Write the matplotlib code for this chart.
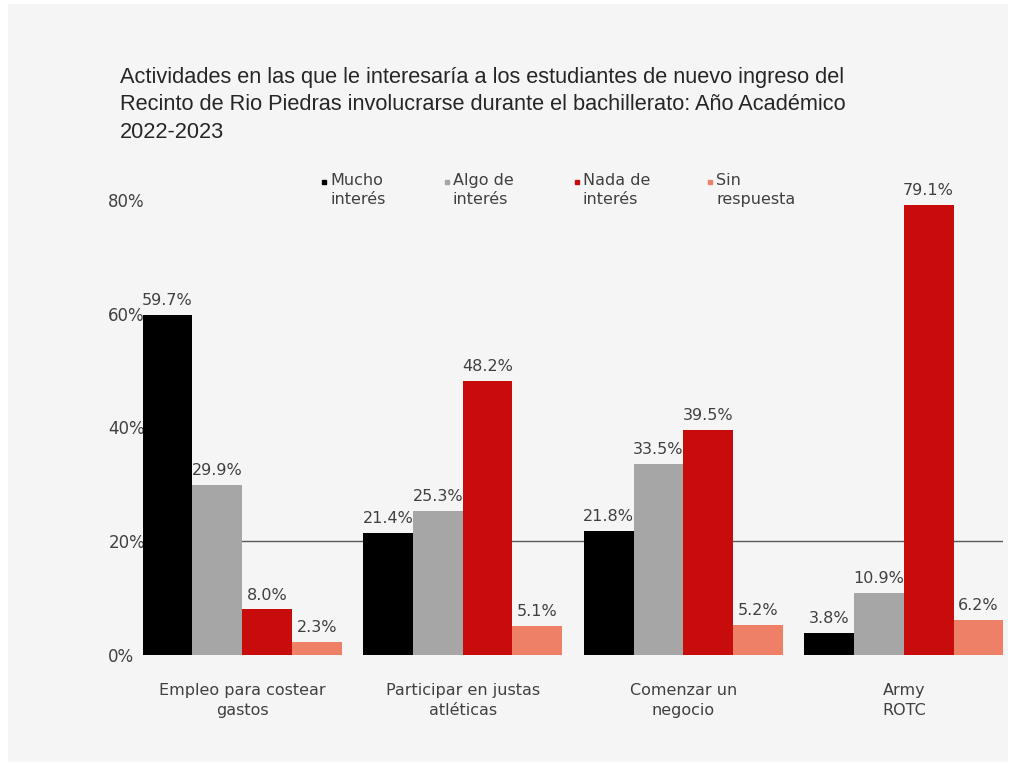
import numpy as np
import matplotlib
matplotlib.use("Agg")
import matplotlib.pyplot as plt
from matplotlib.lines import Line2D
from matplotlib.patches import Rectangle

# data
categorias = ["Empleo para costear\ngastos", "Participar en justas\natléticas",
              "Comenzar un\nnegocio", "Army\nROTC"]
series = ["Mucho\ninterés", "Algo de\ninterés", "Nada de\ninterés", "Sin\nrespuesta"]
mucho = [59.7, 21.4, 21.8, 3.8]
algo = [29.9, 25.3, 33.5, 10.9]
nada = [8.0, 48.2, 39.5, 79.1]
sin_resp = [2.3, 5.1, 5.2, 6.2]
valores = [mucho, algo, nada, sin_resp]
colores = ["#000000", "#a6a6a6", "#c80c0c", "#ef8068"]
yticks = [0, 20, 40, 60, 80]

titulo = ("Actividades en las que le interesaría a los estudiantes de nuevo ingreso del\n"
          "Recinto de Rio Piedras involucrarse durante el bachillerato: Año Académico\n"
          "2022-2023")

plt.rcParams["font.family"] = "DejaVu Sans"

W, H = 1016, 767
fig = plt.figure(figsize=(W / 100, H / 100), dpi=100)
fig.patch.set_facecolor("white")
fig.add_artist(Rectangle((8 / W, 1 - 762 / H), 1000 / W, 758 / H,
                         transform=fig.transFigure, facecolor="#f5f5f5",
                         edgecolor="none", zorder=0))

ax = fig.add_axes([143 / W, 1 - 655 / H, 860 / W, 85 * 5.69 / H])
ax.set_facecolor("none")

x = np.arange(len(categorias))
bw = 0.2256
txt_col = "#404040"
for i, (vals, col) in enumerate(zip(valores, colores)):
    pos = x + (i - 1.5) * bw
    bars = ax.bar(pos, vals, width=bw, color=col, zorder=3)
    for b, v in zip(bars, vals):
        ax.annotate(f"{v:.1f}%", (b.get_x() + b.get_width() / 2, v),
                    xytext=(0, 5), textcoords="offset points",
                    ha="center", va="bottom", fontsize=11.5, color=txt_col,
                    zorder=4, annotation_clip=False)

ax.axhline(20, color="#595959", lw=1, zorder=1)
ax.set_xlim(-0.45, 3.45)
ax.set_ylim(0, 85)
ax.set_yticks(yticks)
ax.set_yticklabels([f"{t}%" for t in yticks])
for lbl in ax.get_yticklabels():
    lbl.set_ha("left")
ax.tick_params(axis="y", length=0, pad=25, labelsize=12, labelcolor=txt_col)
ax.set_xticks(x)
ax.set_xticklabels(categorias, linespacing=1.4)
ax.tick_params(axis="x", length=0, pad=20, labelsize=11.5, labelcolor=txt_col)
for s in ax.spines.values():
    s.set_visible(False)

# title
fig.text(120 / W, 1 - 67 / H, titulo, ha="left", va="top", fontsize=15.7,
         family="Liberation Sans", color="#262626", linespacing=1.4)

# legend
leg_x = [330, 453, 583, 716]
for lx, lab, col in zip(leg_x, series, colores):
    fig.text(lx / W, 1 - 173 / H, lab, ha="left", va="top", fontsize=11.5,
             color=txt_col, linespacing=1.3)
    fig.add_artist(Line2D([(lx - 6) / W], [1 - 182 / H], marker="s",
                          markersize=2.5, color=col, lw=0,
                          transform=fig.transFigure))

fig.savefig("out.png", dpi=100)
